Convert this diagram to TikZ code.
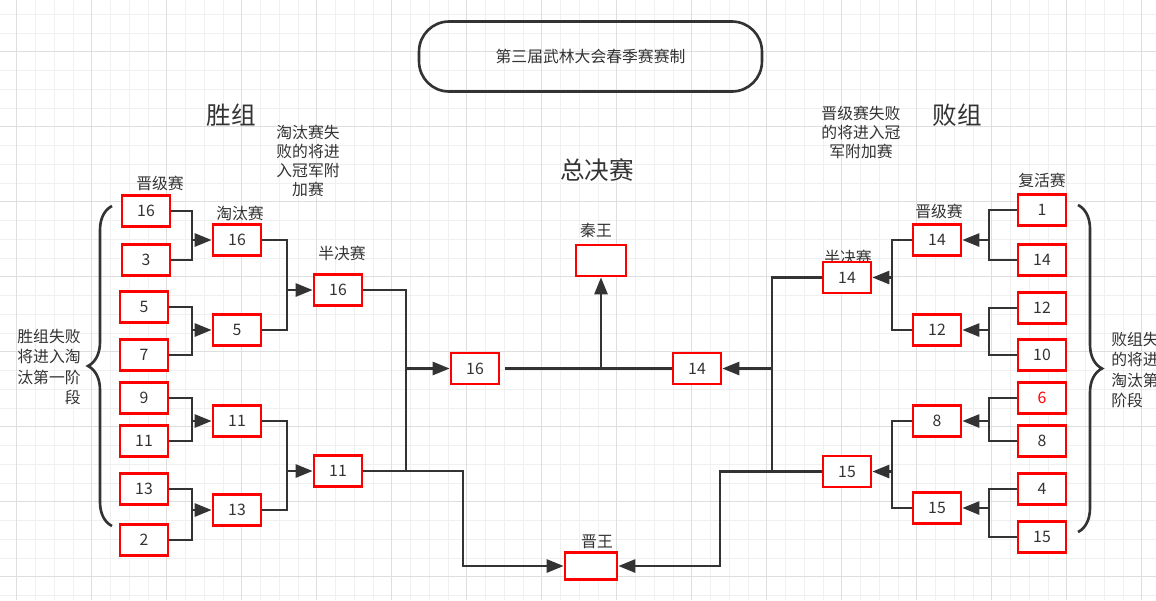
\documentclass[tikz,border=0pt]{standalone}
\usepackage{fontspec}
\setmainfont{Noto Sans CJK SC}
\usetikzlibrary{arrows.meta, decorations.pathreplacing}
\definecolor{ink}{HTML}{333333}
\definecolor{gridlo}{HTML}{F0F0F0}
\definecolor{gridhi}{HTML}{DEDEDE}

\begin{document}
\begin{tikzpicture}[
  x=0.02cm, y=-0.02cm,
  slot/.style={draw=red, line width=1.5pt, fill=white, minimum width=0.96cm, minimum height=0.62cm, inner sep=0pt, text=ink, font=\fontsize{9}{11}\selectfont},
  tag/.style={text=ink, font=\fontsize{9}{11}\selectfont, inner sep=0pt},
  note/.style={text=ink, font=\fontsize{9}{11.5}\selectfont, inner sep=0pt},
  head/.style={text=ink, font=\fontsize{14}{16}\selectfont, inner sep=0pt},
  link/.style={draw=ink, line width=1.5pt},
  feed/.style={link, -{Triangle[length=0.34cm, width=0.26cm]}},
  curly/.style={link, decorate, decoration={brace, amplitude=0.48cm}}
]
\useasboundingbox (0,0) rectangle (1156,600);
\fill[white] (0,0) rectangle (1156,600);
% background grid
\foreach \k in {0,...,62} {
  \draw[gridlo, line width=0.5pt] ({-2.05+18.75*\k},0) -- ({-2.05+18.75*\k},600);
}
\foreach \k in {0,...,32} {
  \draw[gridlo, line width=0.5pt] (0,{-4.55+18.75*\k}) -- (1156,{-4.55+18.75*\k});
}
\foreach \k in {0,...,15} {
  \draw[gridhi, line width=0.5pt] ({16.7+75*\k},0) -- ({16.7+75*\k},600);
}
\foreach \k in {0,...,8} {
  \draw[gridhi, line width=0.5pt] (0,{-23.3+75*\k}) -- (1156,{-23.3+75*\k});
}

% headings and notes
\node[draw=ink, line width=1.5pt, rounded corners=0.6cm, minimum width=6.86cm, minimum height=1.4cm, text=ink, font=\fontsize{9}{11}\selectfont] (title) at (590.5,56.5) {第三届武林大会春季赛赛制};
\node[head] (win) at (231,115) {胜组};
\node[head] (lose) at (957,115) {败组};
\node[head] (final) at (597,170) {总决赛};
\node[note, font=\fontsize{9}{10.8}\selectfont, align=center] (note-w) at (308,160.5) {淘汰赛失\\败的将进\\入冠军附\\加赛};
\node[note, font=\fontsize{9}{10.8}\selectfont, align=center] (note-l) at (861,132.5) {晋级赛失败\\的将进入冠\\军附加赛};
\node[note, align=right, anchor=east] (drop-w) at (81,367) {胜组失败\\将进入淘\\汰第一阶\\段};
\node[note, align=left, anchor=west] (drop-l) at (1111,370) {败组失败\\的将进入\\淘汰第一\\阶段};

% round labels
\node[tag] (t-w1) at (160,183) {晋级赛};
\node[tag] (t-w2) at (240,213) {淘汰赛};
\node[tag] (t-w3) at (342,253) {半决赛};
\node[tag] (t-qin) at (596,230) {秦王};
\node[tag] (t-jin) at (597,542) {晋王};
\node[tag] (t-l1) at (1042,180) {复活赛};
\node[tag] (t-l2) at (939,211) {晋级赛};
\node[tag] (t-l3) at (848,257) {半决赛};

% winners bracket
\foreach \n/\x/\y/\v in {w1/146/211/16, w2/146/260/3, w3/144/307/5, w4/144/355/7, w5/144/398/9, w6/144/441/11, w7/144/489/13, w8/144/540/2}
  \node[slot] (\n) at (\x,\y) {\v};
\foreach \n/\y/\v in {q1/240/16, q2/330/5, q3/421/11, q4/510/13}
  \node[slot] (\n) at (237,\y) {\v};
\node[slot] (s1) at (338,290) {16};
\node[slot] (s2) at (338,471) {11};

% losers bracket
\foreach \n/\y/\v in {l1/210/1, l2/260/14, l3/308/12, l4/355/10, l6/441/8, l7/489/4, l8/537/15}
  \node[slot] (\n) at (1042,\y) {\v};
\node[slot, text=red] (l5) at (1042,398) {6};
\foreach \n/\y/\v in {p1/240/14, p2/330/12, p3/421/8, p4/508/15}
  \node[slot] (\n) at (937,\y) {\v};
\node[slot] (r1) at (847,277.5) {14};
\node[slot] (r2) at (847,471.5) {15};

% finals
\node[slot] (f1) at (475,368.5) {16};
\node[slot] (f2) at (697,368.5) {14};
\node[slot, minimum width=1cm] (qin) at (601,260.5) {};
\node[slot, minimum width=1.04cm, minimum height=0.54cm] (jin) at (591,566) {};

% connectors
\foreach \a/\b/\t/\x in {w1/w2/q1/192, w3/w4/q2/192, w5/w6/q3/192, w7/w8/q4/192, q1/q2/s1/287, q3/q4/s2/287, s1/s2/f1/406} {
  \coordinate (j-\t) at (\x,0 |- \t);
  \draw[link] (\a.east) -| (j-\t) |- (\b.east);
  \draw[feed] (j-\t) -- (\t.west);
}
\foreach \a/\b/\t/\x in {l1/l2/p1/989, l3/l4/p2/989, l5/l6/p3/989, l7/l8/p4/989, p1/p2/r1/892, p3/p4/r2/892, r1/r2/f2/772} {
  \coordinate (j-\t) at (\x,0 |- \t);
  \draw[link] (\a.west) -| (j-\t) |- (\b.west);
  \draw[feed] (j-\t) -- (\t.east);
}
\coordinate (j-qin) at (qin |- f1);
\draw[link, shorten <=0.1cm] (f1.east) -- (f2.west);
\draw[feed] (j-qin) -- (qin.south);
\coordinate (b-w) at (463,0 |- jin);
\coordinate (b-l) at (720,0 |- jin);
\draw[feed] (s2.east) -| (b-w) -- (jin.west);
\draw[feed] (r2.west) -| (b-l) -- (jin.east);

% braces
\coordinate (bw-top) at (112,206);
\coordinate (bw-bot) at (112,526);
\coordinate (bl-top) at (1078,205);
\coordinate (bl-bot) at (1078,532);
\draw[curly] (bw-bot) -- (bw-top);
\draw[curly] (bl-top) -- (bl-bot);
\end{tikzpicture}
\end{document}
